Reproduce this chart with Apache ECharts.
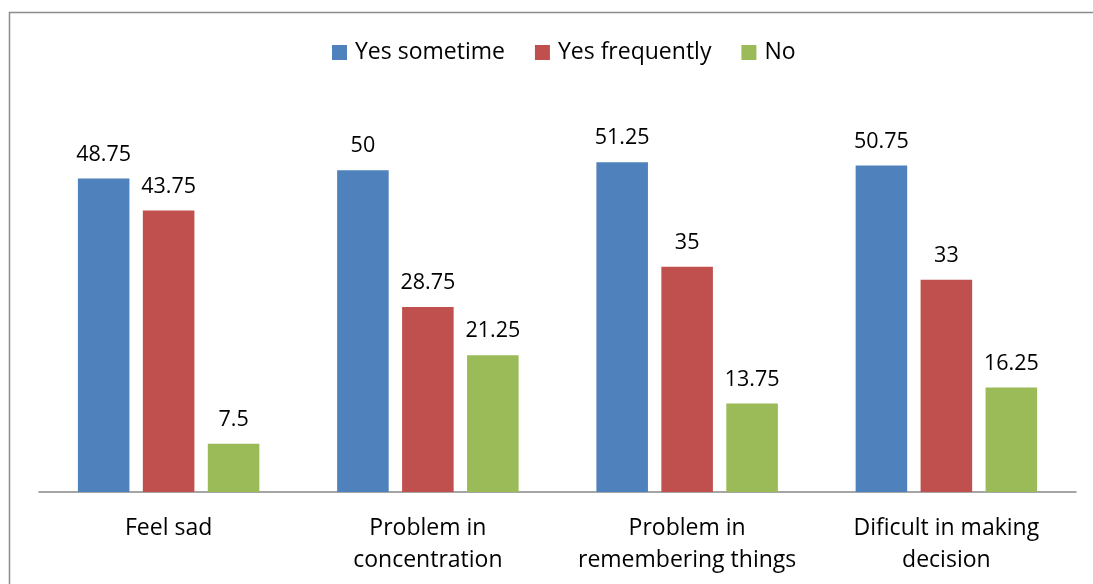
<!DOCTYPE html>
<html>
<head>
<meta charset="utf-8">
<script src="https://cdn.jsdelivr.net/npm/echarts@6/dist/echarts.min.js"></script>
<style>
  html, body { margin: 0; padding: 0; background: #fff; }
  #main { width: 1093px; height: 584px; }
</style>
</head>
<body>
<div id="main"></div>
<script>
// 数据
var categories = ['Feel sad', 'Problem in\nconcentration', 'Problem in\nremembering things', 'Dificult in making\ndecision']
var seriesNames = ['Yes sometime', 'Yes frequently', 'No']
var yesSometime = [48.75, 50, 51.25, 50.75]
var yesFrequently = [43.75, 28.75, 35, 33]
var noValues = [7.5, 21.25, 13.75, 16.25]
var colors = ['#4F81BD', '#C0504D', '#9BBB59']

var fontName = 'Open Sans'

function makeSeries (name, data, color) {
    return {
        name: name,
        type: 'bar',
        data: data,
        barGap: '26%',
        barCategoryGap: '30%',
        itemStyle: { color: color },
        label: {
            show: true,
            position: 'top',
            distance: 13,
            color: '#000',
            fontFamily: fontName,
            fontSize: 21.5
        }
    }
}

var chart = echarts.init(document.getElementById('main'))
chart.setOption({
    animation: false,
    color: colors,
    graphic: [{
        type: 'rect',
        shape: { x: 9.5, y: 12.5, width: 1200, height: 700 },
        style: { fill: 'none', stroke: '#8c8c8c', lineWidth: 1.5 },
        silent: true,
        z: -1
    }],
    legend: {
        top: 36,
        left: 327,
        itemWidth: 15,
        itemHeight: 15,
        itemGap: 30,
        icon: 'rect',
        textStyle: { fontFamily: fontName, fontSize: 23, color: '#000', padding: [0, 0, 0, 3] },
        data: seriesNames
    },
    grid: { left: 39, right: 17, top: 106, bottom: 92 },
    xAxis: {
        type: 'category',
        data: categories,
        axisLine: { lineStyle: { color: '#888', width: 1.5 } },
        axisTick: { show: false },
        axisLabel: {
            margin: 20,
            color: '#000',
            fontFamily: fontName,
            fontSize: 23,
            lineHeight: 32,
            interval: 0
        }
    },
    yAxis: {
        type: 'value',
        min: 0,
        max: 60,
        show: false
    },
    series: [
        makeSeries(seriesNames[0], yesSometime, colors[0]),
        makeSeries(seriesNames[1], yesFrequently, colors[1]),
        makeSeries(seriesNames[2], noValues, colors[2])
    ]
})

window.onresize = function () {
    chart.resize()
}
</script>
</body>
</html>
